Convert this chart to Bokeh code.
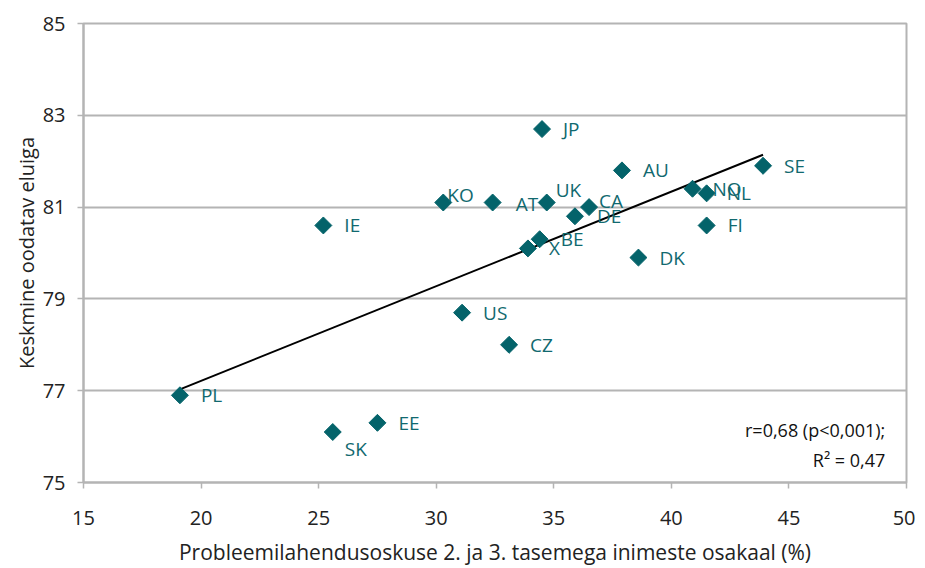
import numpy as np
from bokeh.plotting import figure
from bokeh.models import Range1d, Label, ColumnDataSource, FixedTicker, LabelSet, Title
from bokeh.core.properties import value
from bokeh.embed import file_html
from bokeh.resources import INLINE

countries = ["JP", "AU", "SE", "NO", "NL", "KO", "AT", "UK", "CA", "DE",
             "FI", "IE", "BE", "X", "DK", "US", "CZ", "PL", "EE", "SK"]
skill_share = [34.5, 37.9, 43.9, 40.9, 41.5, 30.3, 32.4, 34.7, 36.5, 35.9,
               41.5, 25.2, 34.4, 33.9, 38.6, 31.1, 33.1, 19.1, 27.5, 25.6]
life_exp = [82.7, 81.8, 81.9, 81.4, 81.3, 81.1, 81.1, 81.1, 81.0, 80.8,
            80.6, 80.6, 80.3, 80.1, 79.9, 78.7, 78.0, 76.9, 76.3, 76.1]
# label offsets in screen pixels (dx, dy) — dy positive = up
label_dx = [21, 21, 21, 20, 20, 4, 23, 9, 10, 22, 21, 21, 21, 21, 21, 21, 21, 21, 21, 12]
label_dy = [0, 0, 0, 0, 0, 8, -1, 13, 6, 0, 0, 0, 0, 0, 0, 0, 0, 0, 0, -17]

x_ticks = [15, 20, 25, 30, 35, 40, 45, 50]
y_ticks = [75, 77, 79, 81, 83, 85]

teal = "#04636a"
label_col = "#11696f"
grid_col = "#b4b4b4"
font = "Open Sans"

p = figure(width=915, height=568, output_backend="svg", toolbar_location=None,
           x_range=Range1d(15, 50), y_range=Range1d(75, 85),
           min_border_left=83, min_border_right=9, min_border_top=23, min_border_bottom=85)

p.xgrid.grid_line_color = None
p.ygrid.grid_line_color = grid_col
p.ygrid.grid_line_width = 2
p.outline_line_color = grid_col
p.outline_line_width = 2

p.xaxis.ticker = FixedTicker(ticks=x_ticks)
p.yaxis.ticker = FixedTicker(ticks=y_ticks)
for ax in (p.xaxis, p.yaxis):
    ax.axis_line_color = grid_col
    ax.axis_line_width = 2
    ax.major_tick_line_color = grid_col
    ax.major_tick_line_width = 1.5
    ax.major_tick_in = 0
    ax.major_tick_out = 6
    ax.minor_tick_line_color = None
    ax.major_label_text_font = font
    ax.major_label_text_font_size = "20px"
    ax.major_label_text_color = "#222222"
    ax.axis_label_text_font = font
    ax.axis_label_text_font_style = "normal"
    ax.axis_label_text_color = "#222222"

p.xaxis.axis_label = "Probleemilahendusoskuse 2. ja 3. tasemega inimeste osakaal (%)"
p.xaxis.axis_label_text_font_size = "21px"
p.xaxis.major_label_standoff = 22
p.xaxis.axis_label_standoff = 10
p.yaxis.major_label_standoff = 12

# y-axis title, placed as in the original (slightly above the frame centre)
ytitle = Title(text="Keskmine oodatav eluiga", align="center", offset=24,
               text_font=font, text_font_size="20px", text_font_style="normal",
               text_color="#222222", standoff=0)
p.add_layout(ytitle, "left")

# trend line (least squares fit of the data)
xs = np.array(skill_share)
ys = np.array(life_exp)
slope, intercept = np.polyfit(xs, ys, 1)
tx = [xs.min(), xs.max()]
ty = [slope * v + intercept for v in tx]
p.line(tx, ty, line_color="black", line_width=2)

src = ColumnDataSource(dict(x=skill_share, y=life_exp, name=countries,
                            dx=label_dx, dy=label_dy))
p.scatter("x", "y", source=src, marker="square", angle=np.pi / 4, size=12,
          fill_color=teal, line_color=teal)

labels = LabelSet(x="x", y="y", text="name", source=src, x_offset="dx", y_offset="dy",
                  text_font=value(font), text_font_size=value("19px"), text_color=label_col,
                  text_baseline="middle", text_align="left")
p.add_layout(labels)

p.add_layout(Label(x=49.1, y=76.15, text="r=0,68 (p<0,001);", text_align="right",
                   text_baseline="middle", text_font=font, text_font_size="18px",
                   text_color="#111111"))
p.add_layout(Label(x=49.1, y=75.5, text="R² = 0,47", text_align="right",
                   text_baseline="middle", text_font=font, text_font_size="18px",
                   text_color="#111111"))

open("out.html", "w").write(file_html(p, INLINE))
